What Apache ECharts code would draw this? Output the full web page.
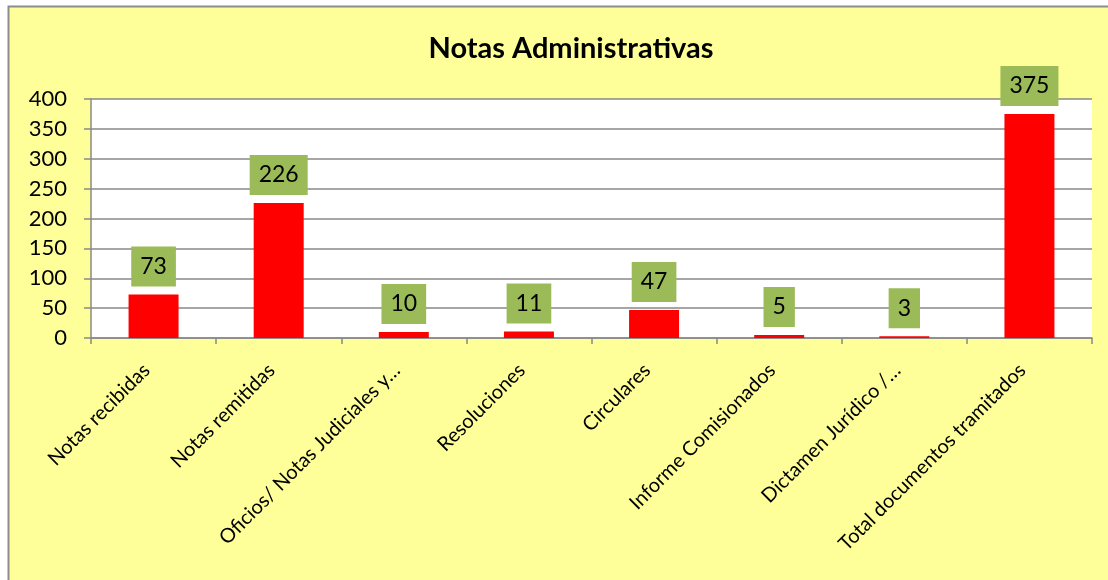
<!DOCTYPE html>
<html>
<head>
<meta charset="utf-8">
<script src="https://cdn.jsdelivr.net/npm/echarts@6/dist/echarts.min.js"></script>
<style>
  html, body { margin: 0; padding: 0; background: #fff; }
  #chart { width: 1108px; height: 580px; }
</style>
</head>
<body>
<div id="chart"></div>
<script>
const categories = [
  'Notas recibidas',
  'Notas remitidas',
  'Oficios/ Notas Judiciales y…',
  'Resoluciones',
  'Circulares',
  'Informe Comisionados',
  'Dictamen Jurídico /…',
  'Total documentos tramitados'
]
const values = [73, 226, 10, 11, 47, 5, 3, 375]
const yTicks = { min: 0, max: 400, interval: 50 }

const font = 'Lato, "Open Sans", sans-serif'
const chart = echarts.init(document.getElementById('chart'))

chart.setOption({
  backgroundColor: '#fff',
  animation: false,
  graphic: [{
    type: 'rect',
    z: -10,
    shape: { x: 8.5, y: 6.5, width: 1110, height: 590 },
    style: { fill: '#FFFF99', stroke: '#8c8c8c', lineWidth: 2 }
  }],
  title: {
    text: 'Notas Administrativas',
    left: 566,
    top: 29,
    textAlign: 'center',
    textStyle: { fontFamily: font, fontSize: 29, fontWeight: 'bold', color: '#000' }
  },
  grid: {
    left: 91,
    right: 16,
    top: 99,
    bottom: 242,
    backgroundColor: '#fff',
    show: true,
    borderWidth: 0
  },
  xAxis: {
    type: 'category',
    data: categories,
    axisLine: { lineStyle: { color: '#898989', width: 1.5 } },
    axisTick: { show: true, length: 6, lineStyle: { color: '#898989', width: 1.5 } },
    axisLabel: {
      rotate: 45,
      interval: 0,
      margin: 22,
      padding: [0, 10, 0, 0],
      fontFamily: font,
      fontSize: 20,
      color: '#000'
    }
  },
  yAxis: {
    type: 'value',
    min: yTicks.min,
    max: yTicks.max,
    interval: yTicks.interval,
    axisLine: { show: true, lineStyle: { color: '#898989', width: 1.5 } },
    axisTick: { show: true, length: 7, lineStyle: { color: '#898989', width: 1.5 } },
    splitLine: { lineStyle: { color: '#898989', width: 1.5 } },
    axisLabel: {
      margin: 24,
      fontFamily: font,
      fontSize: 22,
      color: '#000'
    }
  },
  series: [{
    type: 'bar',
    data: values,
    barWidth: 50,
    itemStyle: { color: '#FF0000' },
    label: {
      show: true,
      position: 'top',
      distance: 8,
      fontFamily: font,
      fontSize: 23,
      lineHeight: 28,
      color: '#000',
      backgroundColor: '#9BBB59',
      padding: [6, 9, 6, 9]
    }
  }]
})
</script>
</body>
</html>
